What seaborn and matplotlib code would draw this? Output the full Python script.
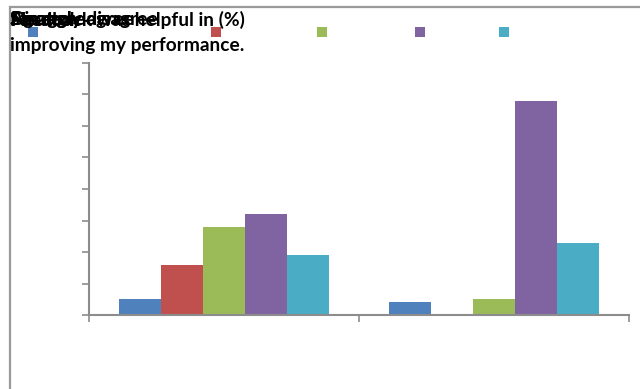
import matplotlib
matplotlib.use("Agg")
import matplotlib.pyplot as plt
from matplotlib.patches import Rectangle
import seaborn as sns
import pandas as pd

# Survey results (%) per response level, for two statements
categories = ["Statement 1", "Statement 2"]
responses = ["Strongly disagree", "Disagree", "Neutral", "Agree", "Strongly agree"]
values_1 = [5, 16, 28, 32, 19]
values_2 = [4, 0, 5, 68, 23]
colors = ["#4F81BD", "#C0504D", "#9BBB59", "#8064A2", "#4BACC6"]
y_ticks = [0, 10, 20, 30, 40, 50, 60, 70, 80]
title_line1 = "Feedback was helpful in (%)"
title_line2 = "improving my performance."

rows = []
for cat, vals in zip(categories, [values_1, values_2]):
    for resp, v in zip(responses, vals):
        rows.append({"category": cat, "response": resp, "percent": v})
df = pd.DataFrame(rows)

sns.set_theme(style="white")
plt.rcParams["font.family"] = ["Lato", "DejaVu Sans"]

fig = plt.figure(figsize=(6.4, 3.89), dpi=100)
W, H = 640, 389
ax = fig.add_axes([89 / W, 1 - 315 / H, (629 - 89) / W, (315 - 63) / H])

sns.barplot(data=df, x="category", y="percent", hue="response",
            hue_order=responses, palette=colors, width=0.775,
            saturation=1, linewidth=0, ax=ax, legend=False)

ax.set_xlim(-0.5, 1.5)
ax.set_ylim(y_ticks[0], y_ticks[-1])
ax.set_yticks(y_ticks)
ax.set_yticklabels([])
ax.set_xticks([-0.5, 0.5, 1.5])
ax.set_xticklabels([])
ax.set_xlabel("")
ax.set_ylabel("")
gray = "#8C8C8C"
for side in ["top", "right"]:
    ax.spines[side].set_visible(False)
for side in ["left", "bottom"]:
    ax.spines[side].set_color(gray)
    ax.spines[side].set_linewidth(1.5)
ax.tick_params(axis="both", direction="out", length=5, width=1.2, color=gray,
               left=True, bottom=True)
ax.set_facecolor("white")

# Outer chart frame (top and left edges visible)
fig.patches.append(Rectangle((9.5 / W, -0.2), 1.2, 1 - 7 / H + 0.2,
                             transform=fig.transFigure, fill=False,
                             edgecolor="#9A9A9A", linewidth=1.6))

# Legend markers across the top
marker_x = [33, 216, 322, 420, 504]
for mx, c in zip(marker_x, colors):
    fig.patches.append(Rectangle(((mx - 5) / W, 1 - 37 / H), 10 / W, 10 / H,
                                 transform=fig.transFigure, facecolor=c,
                                 edgecolor="none"))

# Title and series labels stacked at the top left
for txt in [title_line1] + responses:
    fig.text(10 / W, 1 - 20 / H, txt, fontsize=13.8, fontweight="bold",
             color="black", va="center", ha="left")
fig.text(10 / W, 1 - 45 / H, title_line2, fontsize=13.8, fontweight="bold",
         color="black", va="center", ha="left")

fig.savefig("out.png", dpi=100, facecolor="white")
